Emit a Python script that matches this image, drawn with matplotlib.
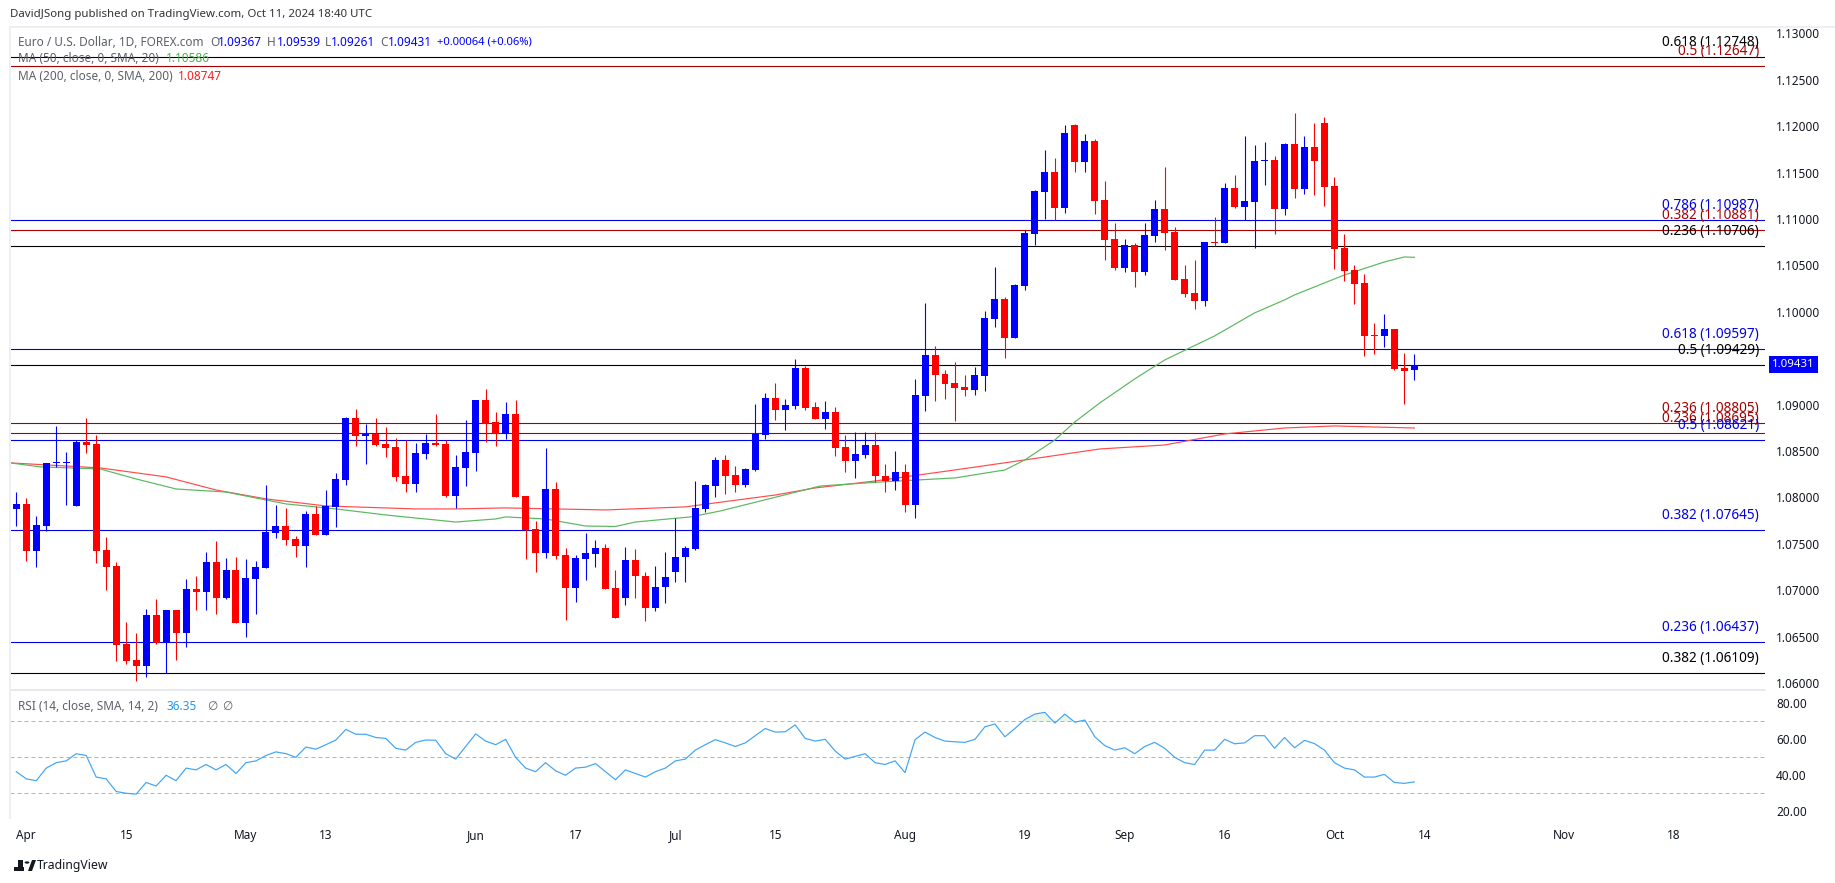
import numpy as np
import matplotlib
matplotlib.use("Agg")
import matplotlib.pyplot as plt
from matplotlib.patches import Rectangle, Polygon, Circle
from matplotlib.ticker import FixedLocator, FormatStrFormatter

plt.rcParams['font.family'] = ['Noto Sans', 'DejaVu Sans']

W, H = 1835, 883

# daily candles, Mar 29 to Oct 11 2024 (weekdays only)
opens = [
    1.07875, 1.07929, 1.07422, 1.07691, 1.08371, 1.08371, 1.07907, 1.08596, 1.08575, 1.07433,
    1.07260, 1.06420, 1.06248, 1.06183, 1.06732, 1.06431, 1.06786, 1.06539, 1.07013, 1.06980,
    1.07303, 1.06916, 1.07217, 1.06647, 1.07121, 1.07239, 1.07616, 1.07691, 1.07552, 1.07476,
    1.07821, 1.07595, 1.07897, 1.08187, 1.08855, 1.08661, 1.08683, 1.08575, 1.08543, 1.08230,
    1.08144, 1.08467, 1.08586, 1.08575, 1.08014, 1.08317, 1.08478, 1.09049, 1.08812, 1.08683,
    1.08898, 1.08014, 1.07659, 1.07400, 1.08090, 1.07379, 1.07024, 1.07336, 1.07390, 1.07454,
    1.07024, 1.06916, 1.07325, 1.07153, 1.06808, 1.07035, 1.07195, 1.07357, 1.07444, 1.07875,
    1.08122, 1.08403, 1.08241, 1.08133, 1.08295, 1.08672, 1.09071, 1.08941, 1.08984, 1.09394,
    1.08974, 1.08845, 1.08920, 1.08543, 1.08392, 1.08456, 1.08564, 1.08230, 1.08176, 1.08273,
    1.07918, 1.09092, 1.09534, 1.09329, 1.09233, 1.09189, 1.09157, 1.09308, 1.09922, 1.10137,
    1.09717, 1.10277, 1.10838, 1.11290, 1.11505, 1.11118, 1.12012, 1.11614, 1.11840, 1.11204,
    1.10784, 1.10471, 1.10719, 1.10428, 1.10816, 1.11107, 1.10859, 1.10353, 1.10202, 1.10116,
    1.10751, 1.10740, 1.11333, 1.11129, 1.11182, 1.11624, 1.11635, 1.11107, 1.11807, 1.11323,
    1.11775, 1.12034, 1.11355, 1.10687, 1.10450, 1.10310, 1.09749, 1.09739, 1.09814, 1.09394,
    1.09367]
highs = [
    1.08057, 1.07993, 1.07799, 1.08371, 1.08769, 1.08488, 1.08618, 1.08855, 1.08672, 1.07573,
    1.07303, 1.06657, 1.06539, 1.06797, 1.06905, 1.06786, 1.06786, 1.07121, 1.07153, 1.07411,
    1.07530, 1.07346, 1.07357, 1.07336, 1.07314, 1.08133, 1.07918, 1.07886, 1.07584, 1.07853,
    1.07907, 1.08079, 1.08263, 1.08866, 1.08952, 1.08791, 1.08855, 1.08758, 1.08640, 1.08618,
    1.08586, 1.08683, 1.08898, 1.08618, 1.08456, 1.08834, 1.09049, 1.09168, 1.08920, 1.09027,
    1.09049, 1.08014, 1.07745, 1.08532, 1.08165, 1.07454, 1.07379, 1.07616, 1.07541, 1.07498,
    1.07217, 1.07465, 1.07444, 1.07195, 1.07260, 1.07411, 1.07777, 1.07476, 1.08176, 1.08144,
    1.08435, 1.08456, 1.08338, 1.08317, 1.09006, 1.09125, 1.09233, 1.09060, 1.09491, 1.09415,
    1.09027, 1.09038, 1.08974, 1.08672, 1.08704, 1.08704, 1.08704, 1.08360, 1.08499, 1.08360,
    1.09276, 1.10094, 1.09631, 1.09372, 1.09458, 1.09319, 1.09405, 1.10008, 1.10482, 1.10159,
    1.10299, 1.10881, 1.11312, 1.11743, 1.11657, 1.12012, 1.12023, 1.11915, 1.11861, 1.11409,
    1.10957, 1.10784, 1.10740, 1.10957, 1.11204, 1.11560, 1.10913, 1.10504, 1.10558, 1.10751,
    1.11021, 1.11387, 1.11473, 1.11894, 1.11797, 1.11829, 1.11678, 1.11818, 1.12142, 1.11894,
    1.12034, 1.12098, 1.11452, 1.10838, 1.10504, 1.10407, 1.09878, 1.09975, 1.09814, 1.09556,
    1.09539]
lows = [
    1.07691, 1.07314, 1.07250, 1.07637, 1.08328, 1.07918, 1.07907, 1.08478, 1.07293, 1.07002,
    1.06237, 1.06205, 1.06021, 1.06065, 1.06420, 1.06108, 1.06248, 1.06388, 1.06786, 1.06786,
    1.06743, 1.06905, 1.06647, 1.06496, 1.06743, 1.07239, 1.07562, 1.07487, 1.07357, 1.07250,
    1.07595, 1.07595, 1.07680, 1.08133, 1.08553, 1.08360, 1.08553, 1.08435, 1.08176, 1.08057,
    1.08057, 1.08413, 1.08553, 1.08004, 1.07886, 1.08122, 1.08284, 1.08596, 1.08553, 1.08629,
    1.08004, 1.07336, 1.07195, 1.07346, 1.07336, 1.06679, 1.06872, 1.07110, 1.07250, 1.07013,
    1.06700, 1.06840, 1.06916, 1.06668, 1.06775, 1.06862, 1.07088, 1.07088, 1.07433, 1.07843,
    1.08004, 1.08036, 1.08057, 1.08111, 1.08284, 1.08629, 1.08834, 1.08726, 1.08952, 1.08941,
    1.08845, 1.08737, 1.08446, 1.08273, 1.08209, 1.08424, 1.08165, 1.08057, 1.08079, 1.07843,
    1.07777, 1.08930, 1.09038, 1.09060, 1.08823, 1.09092, 1.09103, 1.09146, 1.09835, 1.09502,
    1.09717, 1.10234, 1.10719, 1.10999, 1.10989, 1.11064, 1.11505, 1.11505, 1.11053, 1.10558,
    1.10450, 1.10428, 1.10267, 1.10396, 1.10751, 1.10665, 1.10342, 1.10159, 1.10029, 1.10062,
    1.10708, 1.10740, 1.11118, 1.10989, 1.10687, 1.11366, 1.10838, 1.11042, 1.11226, 1.11269,
    1.11258, 1.11139, 1.10461, 1.10331, 1.10084, 1.09523, 1.09545, 1.09620, 1.09372, 1.09006,
    1.09261]
closes = [
    1.07929, 1.07422, 1.07702, 1.08371, 1.08381, 1.08381, 1.08596, 1.08564, 1.07422, 1.07250,
    1.06409, 1.06237, 1.06183, 1.06732, 1.06431, 1.06786, 1.06539, 1.07013, 1.06980, 1.07303,
    1.06916, 1.07217, 1.06647, 1.07131, 1.07250, 1.07627, 1.07691, 1.07541, 1.07476, 1.07821,
    1.07595, 1.07907, 1.08198, 1.08855, 1.08661, 1.08683, 1.08564, 1.08532, 1.08220, 1.08144,
    1.08478, 1.08586, 1.08564, 1.08014, 1.08328, 1.08488, 1.09049, 1.08791, 1.08683, 1.08898,
    1.08004, 1.07648, 1.07400, 1.08090, 1.07368, 1.07024, 1.07346, 1.07400, 1.07454, 1.07013,
    1.06700, 1.07325, 1.07153, 1.06808, 1.07035, 1.07142, 1.07357, 1.07454, 1.07886, 1.08133,
    1.08403, 1.08230, 1.08133, 1.08306, 1.08683, 1.09071, 1.08941, 1.08995, 1.09394, 1.08963,
    1.08845, 1.08920, 1.08532, 1.08392, 1.08467, 1.08564, 1.08230, 1.08176, 1.08273, 1.07918,
    1.09103, 1.09534, 1.09319, 1.09222, 1.09179, 1.09157, 1.09319, 1.09932, 1.10137, 1.09717,
    1.10288, 1.10849, 1.11301, 1.11505, 1.11118, 1.11926, 1.11614, 1.11840, 1.11193, 1.10773,
    1.10471, 1.10719, 1.10428, 1.10827, 1.11107, 1.10849, 1.10342, 1.10191, 1.10116, 1.10751,
    1.10740, 1.11333, 1.11129, 1.11193, 1.11624, 1.11635, 1.11107, 1.11807, 1.11323, 1.11775,
    1.11624, 1.11344, 1.10676, 1.10439, 1.10299, 1.09739, 1.09739, 1.09814, 1.09383, 1.09362,
    1.09431]

# moving averages, read at the bends of each line (bar number, price)
ma200_bars = [-0.6, 8.4, 15, 20, 25, 31, 40, 44, 49, 59, 67, 70, 76, 80, 86, 94, 101, 108.5, 115, 121, 127, 132, 140]
ma200_vals = [1.08371, 1.08317, 1.08220, 1.08079, 1.07983, 1.07907, 1.07875, 1.07875, 1.07886, 1.07864,
              1.07897, 1.07940, 1.08025, 1.08101, 1.08176, 1.08295, 1.08403, 1.08521, 1.08564, 1.08683,
              1.08747, 1.08769, 1.08747]
ma50_bars = [-0.6, 2.4, 8.4, 12, 16, 21, 27, 32, 37, 40, 42, 44, 48, 49, 53, 57, 60, 62, 67.5, 70.5, 76.5, 80.5,
             86.5, 94, 99, 101, 104, 106, 108.5, 112, 115, 120, 124, 127, 128, 131, 133, 137, 139, 140]
ma50_vals = [1.08371, 1.08328, 1.08306, 1.08198, 1.08090, 1.08057, 1.07929, 1.07875, 1.07810, 1.07777,
             1.07756, 1.07734, 1.07767, 1.07789, 1.07767, 1.07691, 1.07686, 1.07734, 1.07789, 1.07853,
             1.08014, 1.08122, 1.08165, 1.08209, 1.08295, 1.08403, 1.08618, 1.08812, 1.09017, 1.09276,
             1.09480, 1.09739, 1.09987, 1.10127, 1.10181, 1.10310, 1.10396, 1.10536, 1.10590, 1.10586]

rsi = [42, 38, 37, 44, 47, 48, 52, 51, 39, 38, 31, 30, 29.5, 36, 34, 40, 37, 44, 43, 46,
       43, 46, 41, 47, 48, 51, 53, 52, 50, 55.7, 54.5, 57, 59.6, 65.5, 62.8, 62.8, 61, 60.5, 55, 54,
       58.3, 59.6, 59.5, 52, 49, 56, 63, 59, 57, 60, 50, 44, 42, 47, 42.5, 40, 44, 44.5, 46.5, 42,
       37.5, 43, 41, 39, 42, 44, 48, 49, 54, 57, 59.8, 58, 56, 58, 62, 66, 64, 64.2, 68, 60.5,
       59, 60, 53.5, 49, 50.5, 52, 47, 46, 48, 41.5, 59.8, 64, 61, 59, 58.6, 58.3, 60, 67, 68.5, 61.4,
       66, 71, 74, 75, 69, 74, 69.5, 70.7, 61.4, 56.5, 54, 55.3, 52, 56, 58.3, 55, 50, 47, 46, 54,
       54, 60, 57.5, 58, 62, 62, 55, 61, 55.3, 59.4, 57.6, 54, 47, 44, 43, 39, 39, 40.5, 36, 35.5, 36.35]

level_prices = [1.12748, 1.12647, 1.10987, 1.10881, 1.10706, 1.09597, 1.09429,
                1.08805, 1.08695, 1.08621, 1.07645, 1.06437, 1.06109]
level_names = ['0.618', '0.5', '0.786', '0.382', '0.236', '0.618', '0.5',
               '0.236', '0.236', '0.5', '0.382', '0.236', '0.382']
level_colors = ['black', 'darkred', 'blue', 'darkred', 'black', 'blue', 'black',
                'darkred', 'darkred', 'blue', 'blue', 'blue', 'black']

# 1.095 is left out, the last price tag covers it
price_ticks = [1.06, 1.065, 1.07, 1.075, 1.08, 1.085, 1.09, 1.10, 1.105, 1.11, 1.115, 1.12, 1.125, 1.13]
rsi_ticks = [20, 40, 60, 80]
date_bars = [1, 11, 23, 31, 46, 56, 66, 76, 89, 101, 111, 121, 132, 141, 155, 166]
date_labels = ['Apr', '15', 'May', '13', 'Jun', '17', 'Jul', '15', 'Aug', '19', 'Sep', '16', 'Oct', '14', 'Nov', '18']

colors = {'black': '#000000', 'darkred': '#a80000', 'blue': '#0000e6'}
UP = '#0000ff'
DOWN = '#ff0000'
TEXT = '#131722'
GREY = '#5d606b'
BORDER = '#e0e3eb'

px = 1 / 100 * 72  # one pixel in points


def pane(left, top, right, bottom):
    return fig.add_axes([left / W, 1 - bottom / H, (right - left) / W, (bottom - top) / H])


def label(x, y, s, color=GREY, size=8.5, **kw):
    # text placed by pixel position on the figure
    fig.text(x / W, 1 - y / H, s, color=color, fontsize=size, va='center', **kw)


fig = plt.figure(figsize=(W / 100, H / 100), dpi=100, facecolor='white')

LEFT, RIGHT = 10, 1765
XLIM = ((LEFT - 16.3) / 9.986, (RIGHT - 16.3) / 9.986)

ax = pane(LEFT, 28, RIGHT, 690)
ax.set_xlim(*XLIM)
ax.set_ylim(1.05924, 1.13057)

bars = np.arange(len(opens))
o, h, l, c = map(np.array, (opens, highs, lows, closes))
candle_colors = [UP if up else DOWN for up in c >= o]

# level lines, names sit about 14px above the line
for price, name, col in zip(level_prices, level_names, level_colors):
    ax.axhline(price, color=colors[col], lw=1.1 * px, zorder=2)
    ax.annotate('%s (%.5f)' % (name, price), xy=(1, price), xycoords=ax.get_yaxis_transform(),
                xytext=(-6 * px, 14.5 * px), textcoords='offset points', color=colors[col],
                fontsize=9.8, ha='right', va='center', zorder=5)

ax.plot(ma200_bars, ma200_vals, color='#ff4d4d', lw=1.2 * px, zorder=3)
ax.plot(ma50_bars, ma50_vals, color='#5cb860', lw=1.2 * px, zorder=3)

ax.vlines(bars, l, h, colors=candle_colors, lw=1.1 * px, zorder=4)
ax.bar(bars, np.abs(c - o), bottom=np.minimum(o, c), width=0.7, color=candle_colors, linewidth=0,
       antialiased=False, zorder=4)

ax.yaxis.tick_right()
ax.yaxis.set_major_locator(FixedLocator(price_ticks))
ax.yaxis.set_major_formatter(FormatStrFormatter('%.5f'))
ax.tick_params(axis='y', length=0, pad=8, labelsize=8.5, labelcolor=TEXT)
ax.set_xticks([])
for s in ax.spines.values():
    s.set_visible(False)

# last price tag
ax.text(1.0042, closes[-1], '1.09431', color='white', fontsize=8.2, fontweight='bold', va='center', ha='left',
        transform=ax.get_yaxis_transform(), zorder=6,
        bbox=dict(boxstyle='square,pad=0.3', facecolor=UP, edgecolor='none'))

# rsi pane
ax2 = pane(LEFT, 690, RIGHT, 819)
ax2.set_xlim(*XLIM)
ax2.set_ylim(15.7, 87.4)
for lev in (70, 50, 30):
    ax2.axhline(lev, color='#b2b5be', lw=1.0 * px, dashes=(4, 3), zorder=1)
ax2.plot(bars, rsi, color='#42a5f5', lw=1.2 * px, zorder=3)
r = np.array(rsi)
ax2.fill_between(bars, r, 70, where=r > 70, interpolate=True, color='#4caf50', alpha=0.12, linewidth=0)
ax2.yaxis.tick_right()
ax2.yaxis.set_major_locator(FixedLocator(rsi_ticks))
ax2.yaxis.set_major_formatter(FormatStrFormatter('%.2f'))
ax2.tick_params(axis='y', length=0, pad=8, labelsize=8.5, labelcolor=TEXT)
ax2.xaxis.set_major_locator(FixedLocator(date_bars))
ax2.set_xticklabels(date_labels)
ax2.tick_params(axis='x', length=0, pad=7, labelsize=8.5, labelcolor=TEXT)
for s in ax2.spines.values():
    s.set_visible(False)
ax2.spines['top'].set_visible(True)
ax2.spines['top'].set_color(BORDER)
ax2.spines['top'].set_linewidth(1.5 * px)

# frame around the chart
fig.add_artist(Rectangle((9 / W, 1 - 819 / H), 1.5 / W, 792 / H, transform=fig.transFigure, color='#eeeff4', lw=0))
fig.add_artist(Rectangle((9 / W, 1 - 28 / H), (W - 9) / W, 2 / H, transform=fig.transFigure, color='#eeeff4', lw=0))

# header
label(10, 15, 'DavidJSong published on TradingView.com, Oct 11, 2024 18:40 UTC', color='#333333', size=8.25)
label(18, 42, 'Euro / U.S. Dollar, 1D, FOREX.com')
for x, s, col in [(210, 'O', GREY), (218, '1.09367', UP), (267, 'H', GREY), (277, '1.09539', UP),
                  (325, 'L', GREY), (331, '1.09261', UP), (380, 'C', GREY), (388, '1.09431', UP)]:
    label(x, 42, s, color=col)
label(437, 42, '+0.00064 (+0.06%)', color=UP, size=8.1)
label(18, 59, 'MA (50, close, 0, SMA, 20)')
label(166, 59, '1.10586', color='#4caf50')
label(18, 76, 'MA (200, close, 0, SMA, 200)')
label(178, 76, '1.08747', color='#ff1a1a')
label(18, 706, 'RSI (14, close, SMA, 14, 2)')
label(166, 706, '36.35', color='#2196f3')
label(207, 706, '∅')
label(222, 706, '∅')

# logo, bottom left
fig.add_artist(Rectangle((14 / W, 1 - 871 / H), 10 / W, 4 / H, transform=fig.transFigure, color='#131722', lw=0))
fig.add_artist(Rectangle((18 / W, 1 - 871 / H), 5 / W, 11 / H, transform=fig.transFigure, color='#131722', lw=0))
fig.add_artist(Circle((27 / W, 1 - 862.5 / H), 0.0013, transform=fig.transFigure, color='#131722', lw=0))
fig.add_artist(Polygon([(28 / W, 1 - 871 / H), (32 / W, 1 - 860 / H), (36 / W, 1 - 860 / H), (32 / W, 1 - 871 / H)],
                       closed=True, transform=fig.transFigure, color='#131722', lw=0))
label(37, 865, 'TradingView', color='#131722', size=8.8, fontweight='bold')

fig.savefig('out.png', dpi=100, facecolor='white')
